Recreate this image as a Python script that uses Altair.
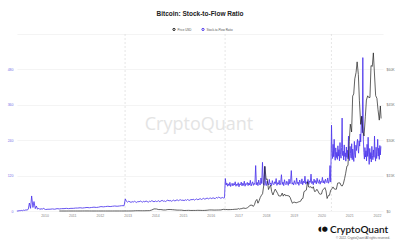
import altair as alt
import pandas as pd

# ---------------- data ----------------
# Stock-to-Flow ratio, semi-monthly (1st / 15th) during 2009
ratio_2009 = [0, 0, 1, 1, 2, 1, 3, 2, 4, 3, 6, 27,
              9, 51, 12, 32, 8, 17, 6, 10, 5, 8, 6, 9]
# monthly (mid-month) Jan 2010 - Nov 2012
ratio_2010_2012 = [5, 6, 6, 7, 6, 8, 7, 8, 8, 9, 8, 9,
                   9, 10, 10, 11, 10, 11, 12, 11, 12, 13, 12, 13,
                   15, 14, 15, 16, 15, 16, 17, 16, 17, 18, 18]
# semi-monthly, Dec 2012 - Jul 2016
ratio_2012_2016 = [41, 33,
                   30, 33, 31, 29, 32, 30, 33, 31, 29, 32, 31, 34, 32, 30, 33, 31, 34, 32, 30, 33, 32, 35, 33, 31,
                   34, 32, 33, 35, 31, 34, 36, 33, 34, 32, 35, 37, 34, 36, 33, 35, 37, 34, 36, 38, 35, 37, 38, 36,
                   37, 35, 38, 36, 39, 37, 36, 39, 38, 40, 37, 39, 41, 38, 40, 42, 39, 41, 43, 40, 42, 44, 41, 43,
                   44, 42, 45, 43, 42, 46, 44, 47, 45, 43, 46, 44,
                   45]
# every 10 days, Jul 2016 - May 2020
ratio_2016_2020 = [110, 88, 95, 84, 92, 86, 97, 83, 90, 94,
                   85, 93, 88, 99, 84, 91, 87, 96, 82, 92,
                   89, 98, 85, 94, 87, 101, 84, 93, 90, 97,
                   86, 95, 88, 104, 85, 92, 99, 87, 94, 90,
                   154, 89, 97, 86, 105, 91, 88, 112, 93, 165,
                   96, 87, 150, 92, 86, 101, 94, 88, 107, 90,
                   95, 86, 103, 92, 89, 99, 93, 110, 87, 96,
                   91, 104, 88, 97, 123, 90, 98, 86, 106, 93,
                   89, 101, 95, 87, 108, 92, 99, 137, 91, 96,
                   88, 103, 94, 90, 112, 93, 98, 87, 105, 96,
                   92, 109, 89, 101, 95, 118, 91, 99, 94, 107,
                   90, 102, 97, 125, 93, 100, 89, 108, 96, 103,
                   92, 111, 98, 94, 106, 91, 101, 97, 114, 95,
                   103, 93, 108, 99, 96, 112, 94, 101, 154, 98]
# weekly, May 2020 - Feb 2022
ratio_2020_2022 = [291, 205, 178, 226, 184, 243, 190, 172, 214, 181,
                   199, 175, 221, 186, 208, 170, 232, 191, 179, 215,
                   315, 188, 203, 173, 224, 185, 197, 169, 217, 182,
                   206, 177, 254, 189, 171, 219, 195, 180, 228, 174,
                   210, 187, 168, 236, 192, 181, 223, 205, 231, 243,
                   212, 196, 238, 220, 261, 234, 288, 322, 265, 520,
                   241, 198, 176, 215, 183, 204, 170, 226, 185, 250,
                   193, 158, 212, 177, 198, 166, 219, 188, 174, 207,
                   182, 254, 191, 169, 216, 178, 201, 243, 186, 213,
                   175, 222, 190, 219]

# Price USD, monthly (mid-month) Jul 2010 - Dec 2016
price_2010_2016 = [0.07, 0.07, 0.06, 0.1, 0.28, 0.25,
                   0.4, 0.9, 0.86, 1.1, 7, 18, 14, 11, 5, 3.5, 2.5, 3.3,
                   6.5, 5.5, 4.9, 5, 5.1, 5.6, 7.6, 11.5, 11, 11.8, 11, 13.3,
                   15, 26, 47, 100, 117, 100, 95, 105, 128, 145, 420, 900,
                   850, 600, 610, 450, 450, 620, 630, 560, 470, 380, 370, 350,
                   210, 240, 280, 225, 237, 235, 290, 260, 230, 250, 330, 440,
                   440, 390, 410, 425, 455, 700, 660, 575, 600, 640, 730, 770]
# semi-monthly (1st / 15th) Jan 2017 - Feb 2022
price_2017_2022 = [1000, 820, 990, 1010, 1220, 1240, 1080, 1180, 1420, 1720, 2400, 2450,
                   2490, 1920, 2720, 4170, 4900, 3300, 4380, 5700, 6700, 7300, 10900, 19000,
                   13400, 13600, 9100, 10100, 10950, 8200, 6800, 8050, 9250, 8500, 7500, 6450,
                   6350, 6350, 7600, 6300, 7200, 6500, 6600, 6480, 6350, 5650, 4200, 3250,
                   3850, 3650, 3480, 3620, 3820, 3960, 4150, 5100, 5350, 8200, 8560, 8850,
                   12400, 10200, 10100, 10300, 9630, 10300, 8300, 8350, 9200, 8500, 7400, 7100,
                   7200, 8800, 9380, 9900, 8520, 5300, 6600, 6650, 8800, 9300, 10200, 9400,
                   9230, 9200, 11800, 11900, 11900, 10800, 10600, 11500, 13800, 16000, 19000, 19300,
                   29400, 36800, 33500, 48700, 49600, 56000, 58700, 63200, 57800, 46700, 36700, 40100,
                   33500, 31800, 39900, 47000, 48800, 48100, 48100, 61600, 61300, 67000, 57200, 48900,
                   47700, 43000, 38500, 44500]
price_last_date = "2022-02-25"
price_last = 39200

halving_dates = ["2012-11-28", "2016-07-09", "2020-05-11"]
ratio_ticks = [0, 120, 240, 360, 480, 600]
price_ticks = [0, 15000, 30000, 45000, 60000, 75000]
series_names = ["Price USD", "Stock-to-Flow Ratio"]
series_colors = ["#1e1e1e", "#4d36ec"]

# ---------------- tables ----------------
r_dates = (list(pd.date_range("2009-01-01", periods=len(ratio_2009), freq="SMS"))
           + list(pd.date_range("2010-01-01", periods=len(ratio_2010_2012), freq="MS") + pd.Timedelta(days=14))
           + list(pd.date_range("2012-12-01", periods=len(ratio_2012_2016), freq="SMS"))
           + list(pd.date_range("2016-07-12", periods=len(ratio_2016_2020), freq="10D"))
           + list(pd.date_range("2020-05-12", periods=len(ratio_2020_2022), freq="7D")))
ratio_df = pd.DataFrame({
    "date": [d.strftime("%Y-%m-%d") for d in r_dates],
    "ratio": ratio_2009 + ratio_2010_2012 + ratio_2012_2016 + ratio_2016_2020 + ratio_2020_2022,
    "series": series_names[1],
})

p_dates = (list(pd.date_range("2010-07-01", periods=len(price_2010_2016), freq="MS") + pd.Timedelta(days=14))
           + list(pd.date_range("2017-01-01", periods=len(price_2017_2022), freq="SMS")))
price_df = pd.DataFrame({
    "date": [d.strftime("%Y-%m-%d") for d in p_dates] + [price_last_date],
    "price": price_2010_2016 + price_2017_2022 + [price_last],
    "series": series_names[0],
})

halving_df = pd.DataFrame({"date": halving_dates})

FONT = "Liberation Sans"

x_enc = alt.X(
    "date:T",
    title=None,
    scale=alt.Scale(domain=[alt.DateTime(year=2009, month=1, date=3),
                            alt.DateTime(year=2022, month=3, date=22)]),
    axis=alt.Axis(format="%Y", tickCount={"interval": "year", "step": 1}, grid=False,
                  domain=False, ticks=False, labelFontSize=3.5, labelColor="#888888",
                  labelPadding=2, labelFont=FONT),
)

color_enc = alt.Color(
    "series:N",
    scale=alt.Scale(domain=series_names, range=series_colors),
    legend=alt.Legend(orient="none", legendX=155, legendY=-7, direction="horizontal",
                      title=None, labelFontSize=3, labelFont=FONT, labelColor="#555555",
                      symbolType="circle", symbolSize=5, symbolStrokeWidth=1,
                      columnPadding=7, labelOffset=1.5, padding=0),
)

rules = alt.Chart(halving_df).mark_rule(color="#d5d5d5", strokeDash=[2, 2], strokeWidth=0.6).encode(
    x=alt.X("date:T")
)

ratio_line = alt.Chart(ratio_df).mark_line(strokeWidth=0.85).encode(
    x=x_enc,
    y=alt.Y("ratio:Q", title=None, scale=alt.Scale(domain=[0, 600]),
            axis=alt.Axis(orient="left", values=ratio_ticks,
                          labelExpr="datum.value == 600 ? '' : datum.label",
                          grid=True, gridColor="#ececec", gridWidth=0.6,
                          domain=False, ticks=False, labelFontSize=3.5,
                          labelColor="#7a6ee8", labelPadding=4, labelFont=FONT)),
    color=color_enc,
)

price_line = alt.Chart(price_df).mark_line(strokeWidth=0.7).encode(
    x=x_enc,
    y=alt.Y("price:Q", title=None, scale=alt.Scale(domain=[0, 75000]),
            axis=alt.Axis(orient="right", values=price_ticks,
                          labelExpr="datum.value == 75000 ? '' : (datum.value == 0 ? '$0' : '$' + (datum.value / 1000) + 'K')",
                          grid=False, domain=False, ticks=False, labelFontSize=3.5,
                          labelColor="#777777", labelPadding=3, labelFont=FONT)),
    color=color_enc,
)

text_df = pd.DataFrame({"t": ["x"]})
watermark = alt.Chart(text_df).mark_text(
    text="CryptoQuant", font="Open Sans", fontSize=18, color="#e4e4e4", align="center", baseline="middle"
).encode(x=alt.value(182), y=alt.value(91))
logo_icon = alt.Chart(text_df).mark_text(
    text="◖●", font="DejaVu Sans", fontSize=7, color="#111111", align="center", baseline="middle"
).encode(x=alt.value(306), y=alt.value(195))
logo_text = alt.Chart(text_df).mark_text(
    text="CryptoQuant", font="Lato", fontSize=10, fontWeight=600, color="#111111", align="left", baseline="alphabetic"
).encode(x=alt.value(313), y=alt.value(198.5))
copyright_text = alt.Chart(text_df).mark_text(
    text="© 2022. CryptoQuant All rights reserved.", font=FONT, fontSize=3, color="#666666", align="right", baseline="middle"
).encode(x=alt.value(373), y=alt.value(204))

chart = alt.layer(
    rules, ratio_line, price_line, watermark, logo_icon, logo_text, copyright_text
).resolve_scale(
    y="independent"
).properties(
    width=366,
    height=177,
    title=alt.TitleParams("Bitcoin: Stock-to-Flow Ratio", fontSize=6.5, fontWeight="bold", font=FONT,
                          color="#222222", anchor="middle", offset=10),
    autosize=alt.AutoSizeParams(type="none"),
    padding={"left": 17, "top": 34, "right": 17, "bottom": 29},
    background="white",
).configure_view(stroke=None)

chart.save("out.html", embed_options={"renderer": "svg", "actions": False})
